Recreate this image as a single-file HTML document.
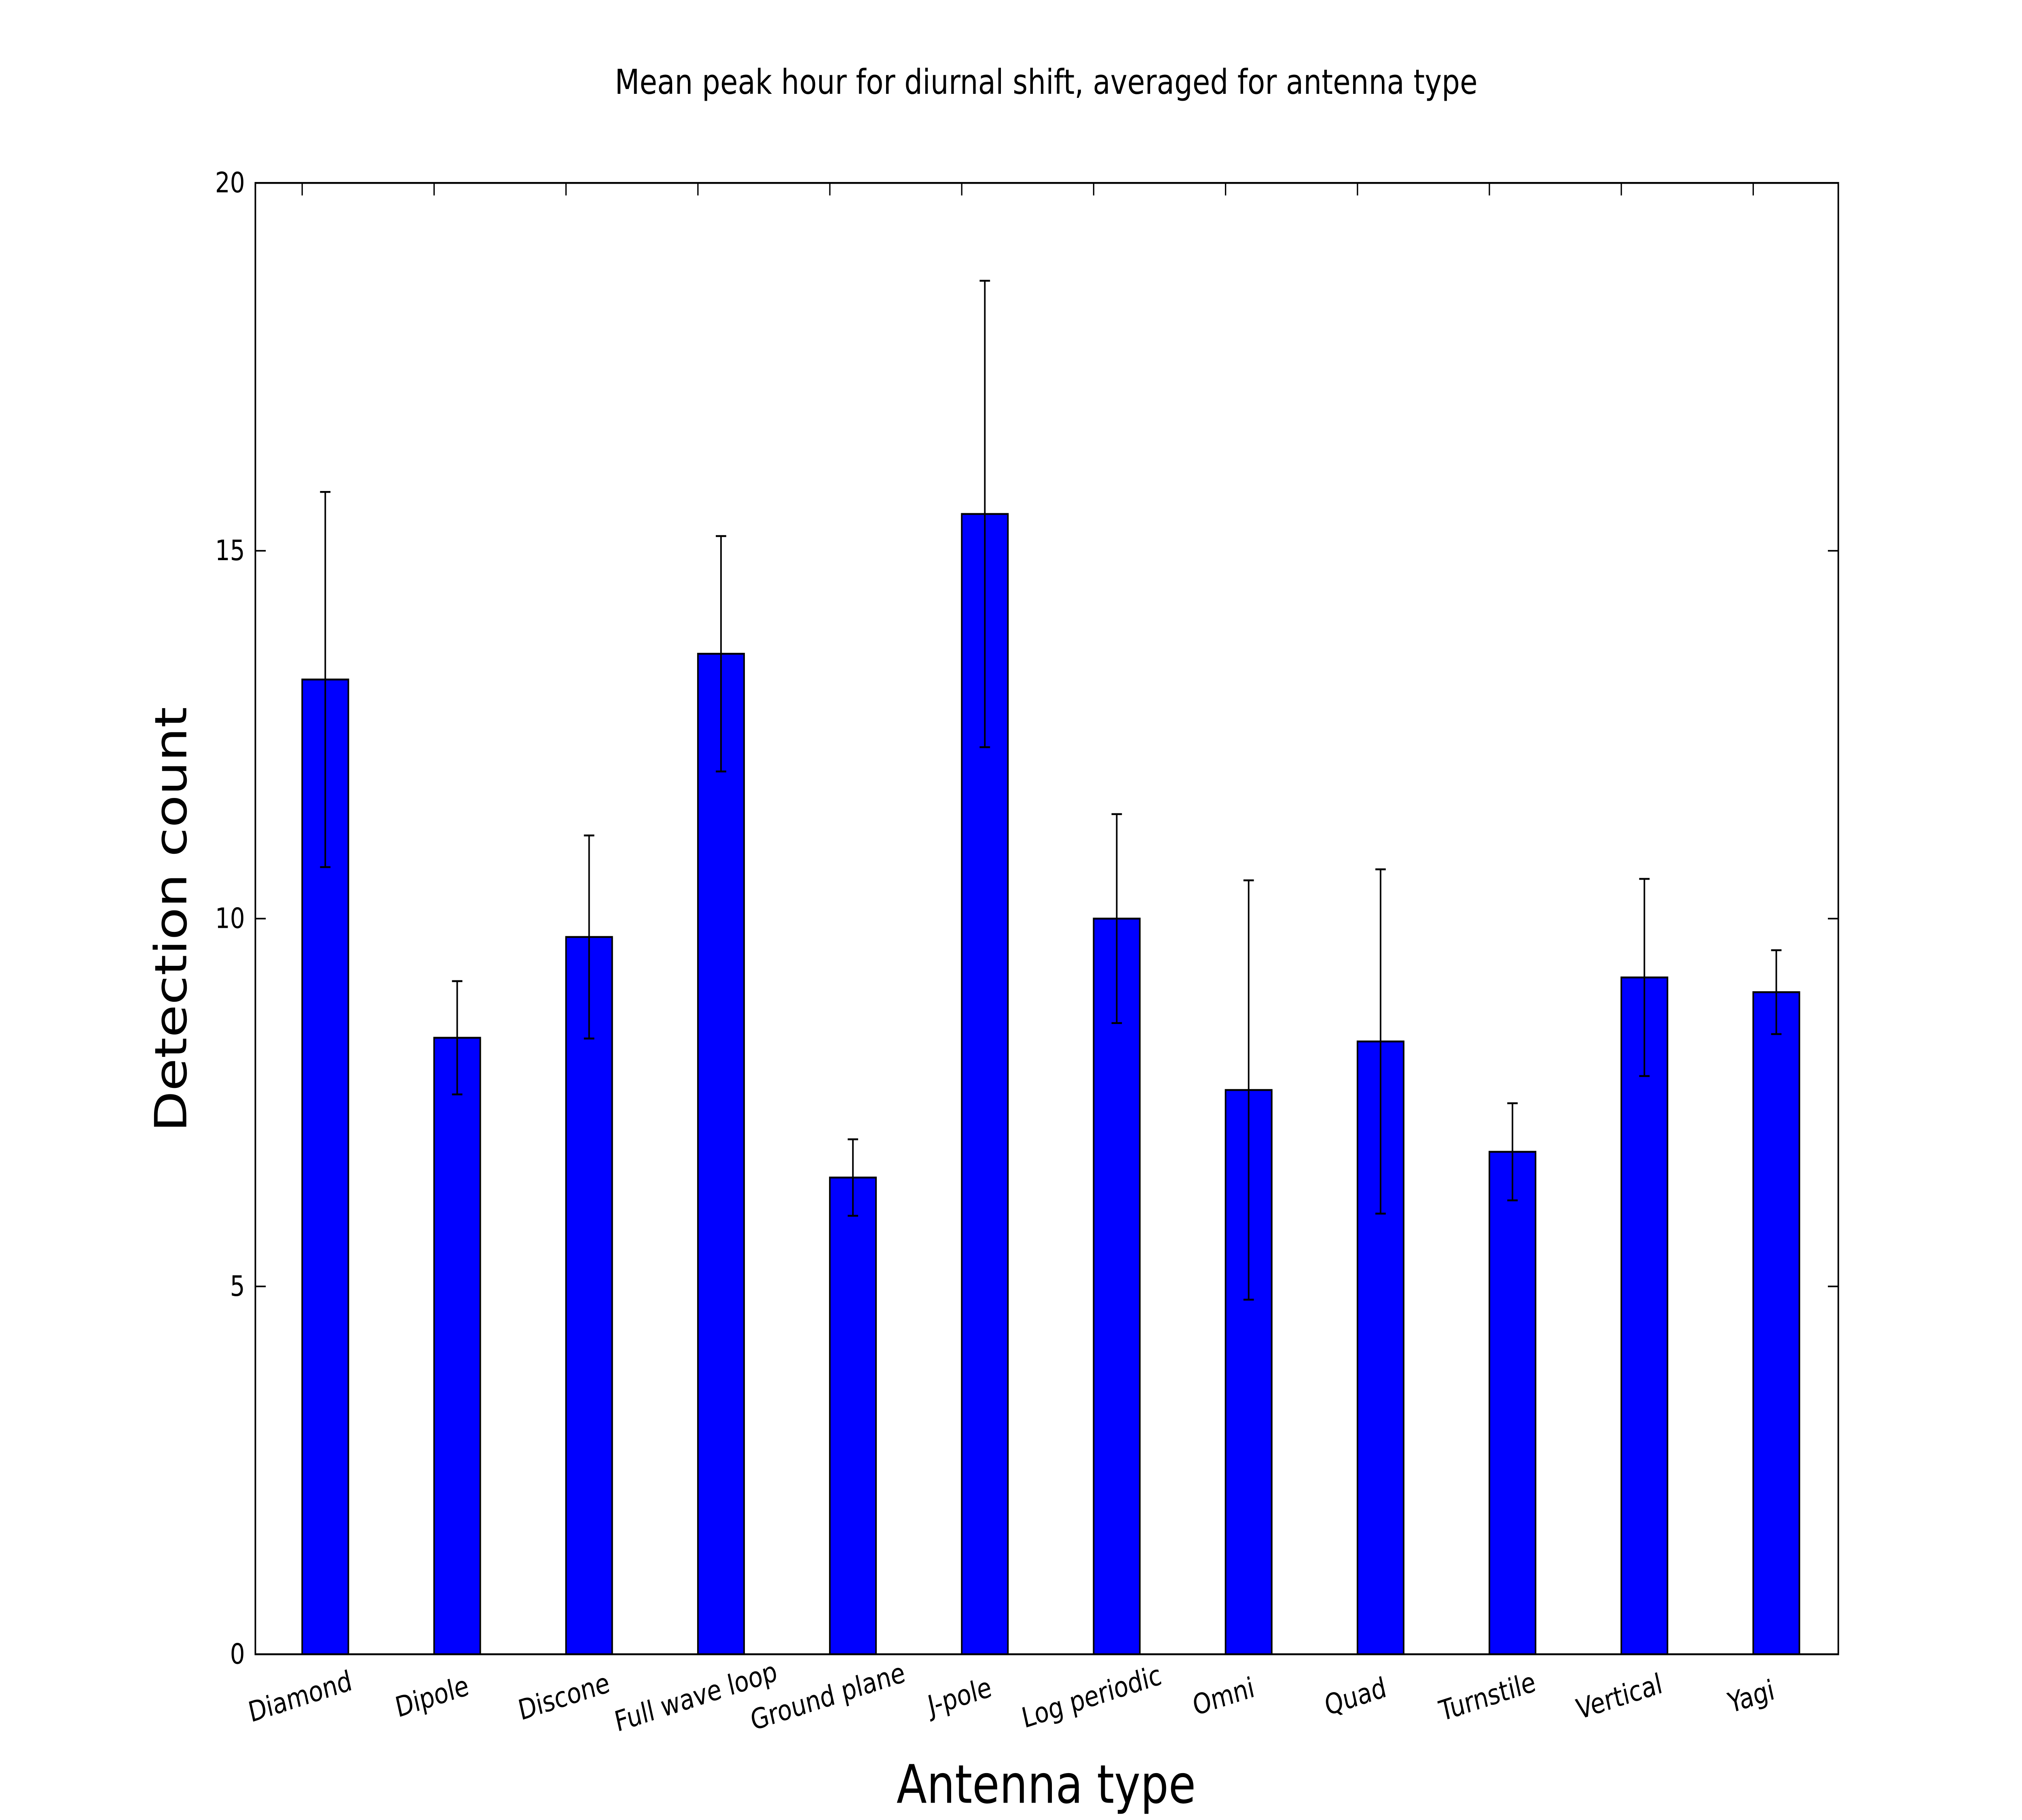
<!DOCTYPE html>
<html><head><meta charset="utf-8"><style>html,body{margin:0;padding:0;background:#fff;width:100%;height:100%;overflow:hidden}svg{display:block;width:100vw;height:100vh}</style></head>
<body>
<svg id="chart" viewBox="0 0 1552 1164" preserveAspectRatio="none" xmlns="http://www.w3.org/2000/svg" font-family="'DejaVu Sans','Liberation Sans',sans-serif">
<rect width="1552" height="1164" fill="#fff"/>
<text x="803" y="60" text-anchor="middle" font-size="22">Mean peak hour for diurnal shift, averaged for antenna type</text>
<text transform="translate(143,588) rotate(-90)" text-anchor="middle" font-size="34">Detection count</text>
<text x="803" y="1165" text-anchor="middle" font-size="34" dy="-12">Antenna type</text>
<g id="plot"></g>
</svg>
<script>
const categories = ["Diamond","Dipole","Discone","Full wave loop","Ground plane","J-pole","Log periodic","Omni","Quad","Turnstile","Vertical","Yagi"];
const values = [13.25,8.38,9.75,13.6,6.48,15.5,10.0,7.67,8.33,6.83,9.2,9.0];
const errors = [2.55,0.77,1.38,1.6,0.52,3.17,1.42,2.85,2.34,0.66,1.34,0.57];
const yTicks = [0,5,10,15,20];

const L=196,R=1411,T=117,B=1058,xmin=-0.355,xmax=11.645,ymin=0,ymax=20,bw=0.35;
const xs=v=>L+(v-xmin)/(xmax-xmin)*(R-L);
const ys=v=>B-(v-ymin)/(ymax-ymin)*(B-T);
const NS="http://www.w3.org/2000/svg";
const g=document.getElementById('plot');
function mk(tag,attrs){const e=document.createElementNS(NS,tag);for(const k in attrs)e.setAttribute(k,attrs[k]);g.appendChild(e);return e;}

values.forEach((v,i)=>{
  const r=mk('rect',{x:xs(i),y:ys(v),width:xs(i+bw)-xs(i),height:ys(0)-ys(v),fill:'#0000ff',stroke:'#000','stroke-width':1.2});
  
  
  const cx=xs(i+bw/2),t=ys(v+errors[i]),b=ys(v-errors[i]);
  const eb=mk('path',{d:`M${cx},${t}V${b}M${cx-4},${t}H${cx+4}M${cx-4},${b}H${cx+4}`,stroke:'#000','stroke-width':1.2,fill:'none'});
  
  
  const tk=mk('path',{d:`M${xs(i)},${B}v-8M${xs(i)},${T}v8`,stroke:'#000','stroke-width':1});
  
  
  const lb=mk('text',{x:0,y:0,'text-anchor':'middle','font-size':18,transform:`translate(${xs(i)},${B+33}) rotate(-15)`});
  lb.textContent=categories[i];
  
  
});
yTicks.forEach(v=>{
  const tk=mk('path',{d:`M${L},${ys(v)}h8M${R},${ys(v)}h-8`,stroke:'#000','stroke-width':1});
  
  
  const lb=mk('text',{x:L-8,y:ys(v)+6,'text-anchor':'end','font-size':18});
  lb.textContent=v;
  
  
});
const fr=mk('rect',{x:L,y:T,width:R-L,height:B-T,fill:'none',stroke:'#000','stroke-width':1.2});


</script>
</body></html>
